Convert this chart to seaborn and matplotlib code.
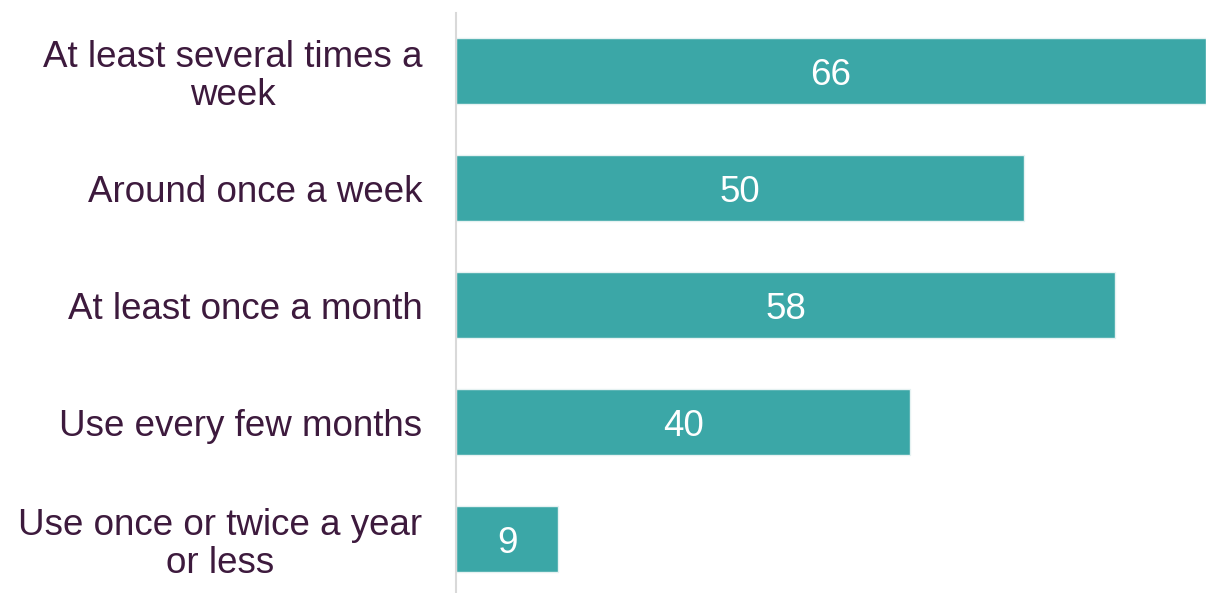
import matplotlib
matplotlib.use("Agg")
import matplotlib.pyplot as plt
import seaborn as sns
import pandas as pd

categories = ["At least several times a\nweek", "Around once a week", "At least once a month",
              "Use every few months", "Use once or twice a year\nor less"]
values = [66, 50, 58, 40, 9]

sns.set_theme(style="white")
plt.rcParams['font.family'] = ['Liberation Sans', 'DejaVu Sans']

df = pd.DataFrame({"cat": categories, "val": values})

fig = plt.figure(figsize=(12.06, 5.93), dpi=100)
ax = fig.add_axes([0.378, -0.0076, 0.622, 0.9865])
sns.barplot(data=df, y="cat", x="val", orient="h", color="#3BA7A7", saturation=1,
            width=0.565, edgecolor="#E6F2F2", linewidth=1, ax=ax)
ax.set_xlim(0, 66)
ax.set_ylim(4.5, -0.5)
ax.set_xlabel("")
ax.set_ylabel("")
ax.set_xticks([])
for s in ["top", "right", "bottom"]:
    ax.spines[s].set_visible(False)
ax.spines["left"].set_color("#D9D9D9")
ax.spines["left"].set_linewidth(1.5)
ax.tick_params(axis="y", length=0, pad=24)
for lab in ax.get_yticklabels():
    lab.set_fontsize(26.5)
    lab.set_color("#3D1A3D")
    lab.set_horizontalalignment("center")
    lab.set_multialignment("center")
    lab.set_linespacing(1.12)

fig.canvas.draw()
renderer = fig.canvas.get_renderer()
from matplotlib.transforms import ScaledTranslation
for lab in ax.get_yticklabels():
    bb = lab.get_window_extent(renderer)
    shift = -(bb.width / 2) / 100.0
    lab.set_transform(lab.get_transform() + ScaledTranslation(shift, 0, fig.dpi_scale_trans))

for i, v in enumerate(values):
    ax.text(v / 2, i, str(v), ha="center", va="center_baseline", color="white", fontsize=26.5)

fig.savefig("out.png", dpi=100)
